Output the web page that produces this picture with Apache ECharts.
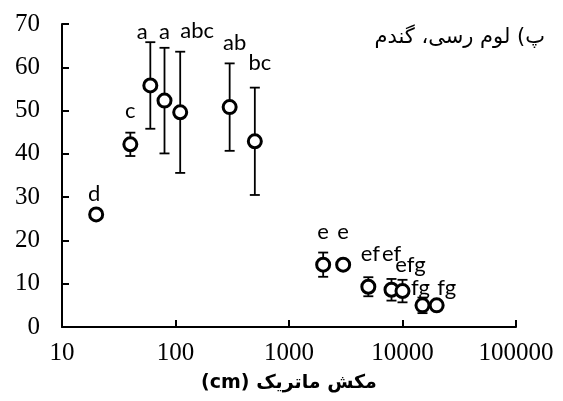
<!DOCTYPE html>
<html>
<head>
<meta charset="utf-8">
<style>
  html, body { margin: 0; padding: 0; background: #fff; }
  #chart { width: 563px; height: 401px; }
</style>
<script src="https://cdn.jsdelivr.net/npm/echarts@6/dist/echarts.min.js"></script>
</head>
<body>
<div id="chart"></div>
<script>
// matric suction (cm), mean values, standard deviations, significance letters
const suctions = [20, 40, 60, 80, 110, 300, 500, 2000, 3000, 5000, 8000, 10000, 15000, 20000];
const means = [26, 42.2, 55.8, 52.3, 49.6, 50.8, 42.9, 14.4, 14.4, 9.3, 8.6, 8.3, 5.0, 5.0];
const deviations = [0.5, 2.7, 10, 12.2, 14, 10.1, 12.4, 2.8, 0.5, 2.2, 2.5, 2.6, 1.8, 0.5];
const letters = ["d", "c", "a", "a", "abc", "ab", "bc", "e", "e", "ef", "ef", "efg", "fg", "fg"];
const xTicks = [10, 100, 1000, 10000, 100000];
const titleText = "پ) لوم رسی، گندم";
const xName = "مکش ماتریک (cm)";

// pixel offsets of the letter labels from their points (layout only)
const labelOffsets = [
  [-2, -21], [0, -33], [-8, -54], [0, -69], [17, -81], [5, -64], [5, -78],
  [0, -33], [0, -33], [2, -33], [0, -36], [8, -26], [-2, -17], [10, -17],
];

const chart = echarts.init(document.getElementById("chart"));

const errorData = suctions.map((x, i) => [x, means[i] - deviations[i], means[i] + deviations[i]]);

function renderErrorBar(params, api) {
  const x = api.value(0);
  const low = api.coord([x, api.value(1)]);
  const high = api.coord([x, api.value(2)]);
  const cap = 5;
  const style = { stroke: "#000", lineWidth: 1.8 };
  return {
    type: "group",
    children: [
      { type: "line", shape: { x1: low[0], y1: low[1], x2: high[0], y2: high[1] }, style },
      { type: "line", shape: { x1: low[0] - cap, y1: low[1], x2: low[0] + cap, y2: low[1] }, style },
      { type: "line", shape: { x1: high[0] - cap, y1: high[1], x2: high[0] + cap, y2: high[1] }, style },
    ],
  };
}

const axisLine = { show: true, lineStyle: { color: "#000", width: 2 } };
const tickFont = { color: "#000", fontFamily: "Liberation Serif", fontSize: 25 };

chart.setOption({
  animation: false,
  grid: { left: 62, right: 47, top: 24, bottom: 74 },
  graphic: [
    {
      type: "text",
      right: 18,
      top: 27,
      style: { text: titleText, fill: "#000", font: "21px 'DejaVu Sans'" },
    },
  ],
  xAxis: {
    type: "log",
    logBase: 10,
    min: xTicks[0],
    max: xTicks[xTicks.length - 1],
    name: "\u202B" + xName + "\u202C",
    nameLocation: "middle",
    nameGap: 47,
    nameTextStyle: { color: "#000", fontFamily: "DejaVu Sans", fontSize: 19, fontWeight: "bold" },
    axisLine,
    axisTick: { show: true, inside: true, length: 7, lineStyle: { color: "#000", width: 2 } },
    axisLabel: { ...tickFont, margin: 14, formatter: (v) => String(Math.round(v)) },
    splitLine: { show: false },
    minorTick: { show: false },
  },
  yAxis: {
    type: "value",
    min: 0,
    max: 70,
    interval: 10,
    axisLine,
    axisTick: { show: true, inside: true, length: 7, lineStyle: { color: "#000", width: 2 } },
    axisLabel: { ...tickFont, margin: 22 },
    splitLine: { show: false },
  },
  series: [
    {
      type: "custom",
      renderItem: renderErrorBar,
      data: errorData,
      z: 1,
    },
    {
      type: "scatter",
      z: 2,
      symbol: "circle",
      symbolSize: 13,
      itemStyle: { color: "#fff", borderColor: "#000", borderWidth: 3, opacity: 1 },
      label: {
        show: true,
        position: "inside",
        color: "#000",
        fontFamily: "Lato",
        fontSize: 22,
      },
      data: suctions.map((x, i) => ({
        value: [x, means[i]],
        label: { formatter: letters[i], offset: labelOffsets[i] },
      })),
    },
  ],
});
</script>
</body>
</html>
